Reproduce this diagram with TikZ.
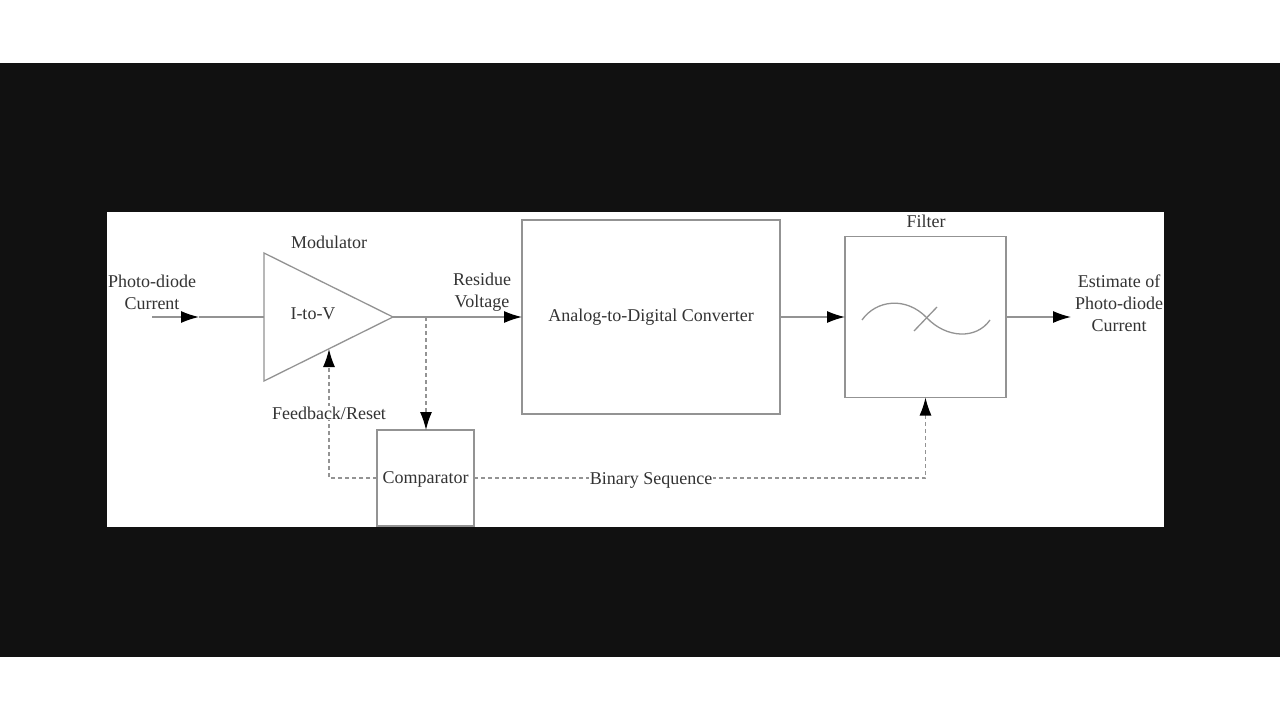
\documentclass[tikz,border=0pt]{standalone}
\usepackage{fontspec}
\setmainfont{Liberation Serif}
\usetikzlibrary{arrows.meta, positioning}
\definecolor{lineg}{HTML}{939393}
\definecolor{ink}{HTML}{333333}
\definecolor{band}{HTML}{111111}

\begin{document}
\begin{tikzpicture}[
  x = 1pt, y = -1pt,
  every node/.style = {font=\fontsize{18}{22}\selectfont, text=ink, inner sep=0pt, outer sep=0pt},
  block/.style = {draw=lineg, line width=1.3pt, rectangle},
  wire/.style = {draw=lineg, line width=1.3pt},
  flow/.style = {wire, -{Latex[length=18pt, width=12pt, color=black]}},
  dashflow/.style = {flow, dash pattern=on 4pt off 3pt},
  tag/.style = {fill=white, inner sep=1pt, anchor=base}
]
  % frame
  \fill[white] (0,0) rectangle (1280,720);
  \fill[band] (0,63) rectangle (1280,657);
  \fill[white] (107,212) rectangle (1164,527);

  % blocks
  \coordinate (ampin) at (264,317);
  \coordinate (ampout) at (393,317);
  \draw[wire] (264,253) -- (ampout) -- (264,381) -- cycle;
  \node (itov) at (313,314) {I-to-V};
  \node (modlbl) at (329,242) {Modulator};
  \node[block, minimum width=258, minimum height=194] (adc) at (651,317) {Analog-to-Digital Converter};
  \node[block, minimum width=161, minimum height=161] (filter) at (925.5,317) {};
  \node (filterlbl) at (926,221) {Filter};
  \node[block, minimum width=97, minimum height=96, text depth=0pt] (comp) at (425.5,478) {Comparator};

  % filter symbol
  \draw[wire] (862,320) .. controls (876,300) and (906,296) .. (927,318)
              .. controls (946,338) and (976,340) .. (990,320);
  \draw[wire] (914,331) -- (937,307);

  % in / out labels
  \node[align=center] (pdin) at (152,292) {Photo-diode\\Current};
  \node[align=center] (resid) at (482,292) {Residue\\Voltage};
  \node[align=center] (estout) at (1119,303) {Estimate of\\Photo-diode\\Current};

  % connectors
  \coordinate (src) at (152,317);
  \coordinate (srcmid) at (199,317);
  \coordinate (tap) at (426,317);
  \coordinate (fb) at (329,349);
  \coordinate (est) at (1071,317);
  \draw[flow] (src) -- (srcmid);
  \draw[wire] (srcmid) -- (ampin);
  \draw[flow] (ampout) -- (adc.west);
  \draw[flow] (adc.east) -- (filter.west);
  \draw[flow] (filter.east) -- (est);
  \draw[dashflow] (tap) -- (tap |- comp.north);
  \draw[dashflow] (comp.west) -| (fb);
  \draw[dashflow] (comp.east) -| (filter.south);

  % labels on the dashed lines
  \node[tag] (fblbl) at (329,419) {Feedback/Reset};
  \node[tag] (bslbl) at (651,484) {Binary Sequence};
\end{tikzpicture}
\end{document}
